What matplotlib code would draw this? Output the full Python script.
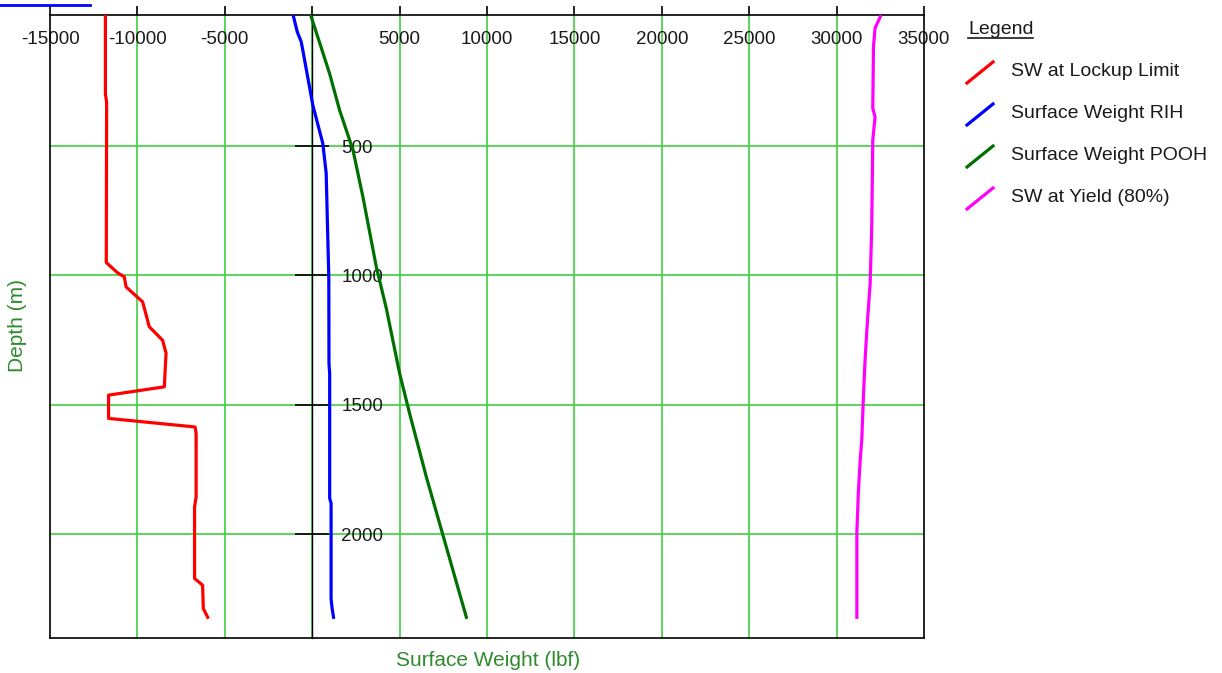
import matplotlib
matplotlib.use("Agg")
import matplotlib.pyplot as plt
from matplotlib.lines import Line2D
from matplotlib.ticker import FuncFormatter

plt.rcParams['font.family'] = ['Liberation Sans', 'DejaVu Sans']

# SW at Lockup Limit
lockup_depth = [0, 300, 330, 950, 990, 1005, 1044, 1102, 1198, 1250, 1300, 1430, 1462,
                1552, 1585, 1610, 1855, 1894, 2170, 2196, 2286, 2320]
lockup_sw = [-11830, -11830, -11760, -11780, -11130, -10750, -10650, -9700, -9320, -8560,
             -8360, -8460, -11650, -11650, -6700, -6640, -6640, -6730, -6730, -6270, -6230, -5980]

# Surface Weight RIH
rih_depth = [0, 60, 97, 129, 342, 490, 605, 863, 1005, 1340, 1378, 1860, 1880, 2250, 2290, 2320]
rih_sw = [-1070, -850, -630, -540, 35, 607, 800, 895, 950, 960, 1000, 1000, 1080, 1080, 1150, 1220]

# Surface Weight POOH
pooh_depth = [0, 219, 361, 515, 696, 966, 1127, 1378, 1533, 1778, 2003, 2320]
pooh_sw = [-60, 990, 1565, 2330, 2900, 3665, 4240, 5000, 5573, 6530, 7480, 8820]

# SW at Yield (80%)
yield_depth = [0, 45, 116, 354, 387, 477, 812, 1030, 1211, 1327, 1456, 1636, 1713, 1829, 1990, 2320]
yield_sw = [32500, 32200, 32110, 32070, 32200, 32070, 32010, 31920, 31730, 31630, 31540,
            31440, 31350, 31250, 31160, 31160]

series = [
    (lockup_sw, lockup_depth, '#ff0000', 'SW at Lockup Limit'),
    (rih_sw, rih_depth, '#0000ff', 'Surface Weight RIH'),
    (pooh_sw, pooh_depth, '#007000', 'Surface Weight POOH'),
    (yield_sw, yield_depth, '#ff00ff', 'SW at Yield (80%)'),
]

x_ticks = list(range(-15000, 35001, 5000))
y_ticks = [500, 1000, 1500, 2000]

W, H = 1222, 673
fig = plt.figure(figsize=(W / 100, H / 100), dpi=100)
ax = fig.add_axes([50 / W, 1 - 638 / H, 874 / W, 623 / H])

for xs, ys, color, name in series:
    ax.plot(xs, ys, color=color, linewidth=2.3, zorder=3)

ax.set_xlim(-15000, 35000)
ax.set_ylim(2400, -6)

# grille verte
for xv in x_ticks[1:-1]:
    ax.axvline(xv, color='#3fcf3f', linewidth=1.2, zorder=1)
for yv in y_ticks:
    ax.axhline(yv, color='#3fcf3f', linewidth=1.2, zorder=1)

# axe x en haut, etiquettes a l'interieur
ax.set_xticks(x_ticks)
ax.xaxis.set_major_formatter(FuncFormatter(lambda v, p: '' if v == 0 else f"{v:.0f}"))
ax.tick_params(axis='x', top=True, labeltop=True, bottom=False, labelbottom=False,
               direction='out', length=6.5, width=1.2, pad=-30, labelsize=13.5,
               labelcolor='#1a1a1a')

# axe y centre sur x = 0
ax.spines['right'].set_position(('data', 0))
ax.spines['right'].set_linewidth(1.0)
ax.yaxis.tick_right()
ax.set_yticks(y_ticks)
ax.tick_params(axis='y', direction='inout', length=25, width=1.2, pad=8.5,
               labelsize=13.5, labelcolor='#1a1a1a')
for s in ['left', 'top', 'bottom']:
    ax.spines[s].set_linewidth(1.2)
ax.plot([1, 1], [0, 1], transform=ax.transAxes, color='black', linewidth=1.2, clip_on=False)

fig.text(18 / W, 1 - 325 / H, 'Depth (m)', rotation=90, ha='center', va='center',
         fontsize=15, color='#2e8b2e')
fig.text(488 / W, 1 - 660 / H, 'Surface Weight (lbf)', ha='center', va='center',
         fontsize=15, color='#2e8b2e')

# legende
fig.text(968 / W, 1 - 30 / H, 'Legend', ha='left', va='center', fontsize=14, color='#1a1a1a')
fig.add_artist(Line2D([968 / W, 1033 / W], [1 - 38 / H, 1 - 38 / H], color='#1a1a1a', linewidth=1.2))
for i, (xs, ys, color, name) in enumerate(series):
    yc = 71 + 42 * i
    fig.add_artist(Line2D([967 / W, 993 / W], [1 - (yc + 12) / H, 1 - (yc - 9) / H],
                          color=color, linewidth=2.3))
    fig.text(1011 / W, 1 - yc / H, name, ha='left', va='center', fontsize=14, color='#1a1a1a')

# lien coupe en haut a gauche
fig.add_artist(Line2D([0, 90 / W], [1 - 4.5 / H, 1 - 4.5 / H], color='#0000ff', linewidth=2))

fig.savefig('out.png', dpi=100)
